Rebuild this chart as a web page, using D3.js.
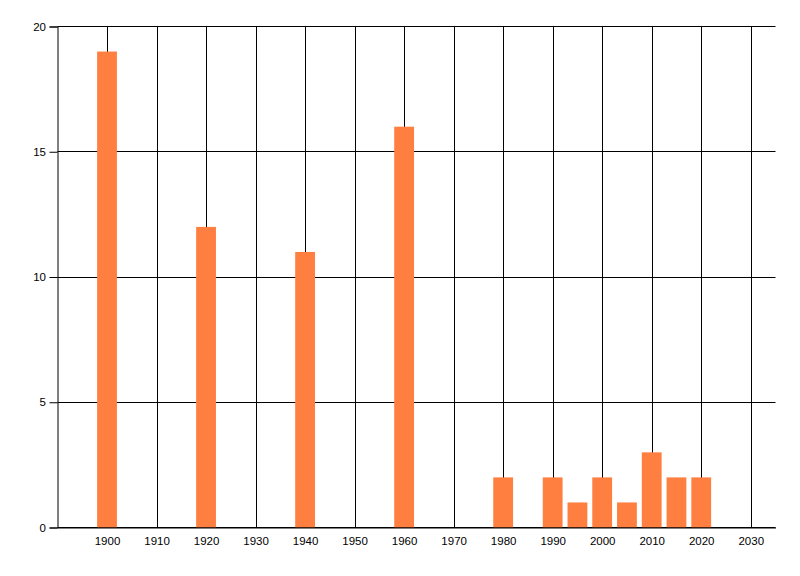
<!DOCTYPE html>
<html>
<head>
<meta charset="utf-8">
<script src="https://cdn.jsdelivr.net/npm/d3@7"></script>
<style>
  body { margin: 0; background: #fff; }
  svg text { font-family: "Liberation Sans", Arial, sans-serif; font-size: 11.5px; fill: #000; }
</style>
</head>
<body>
<div id="root"></div>
<script>
'use strict';

// chart values
var years = [1900, 1920, 1940, 1960, 1980, 1990, 1995, 2000, 2005, 2010, 2015, 2020];
var counts = [19, 12, 11, 16, 2, 2, 1, 2, 1, 3, 2, 2];
var xTicks = [1900, 1910, 1920, 1930, 1940, 1950, 1960, 1970, 1980, 1990, 2000, 2010, 2020, 2030];
var yTicks = [0, 5, 10, 15, 20];

var width = 800, height = 576;
var plotLeft = 57.5, plotRight = 775.5, plotTop = 26.5, plotBottom = 527.5;

var svg = d3.select('#root').append('svg')
  .attr('width', width)
  .attr('height', height);

var x = d3.scaleLinear().domain([1890, 2035]).range([plotLeft, plotRight]);
var y = d3.scaleLinear().domain([0, 20]).range([plotBottom, plotTop]);

// vertical grid lines
svg.selectAll('line.vgrid')
  .data(xTicks)
  .enter().append('line')
  .attr('class', 'vgrid')
  .attr('x1', function (d) { return Math.round(x(d)) + 0.5; })
  .attr('x2', function (d) { return Math.round(x(d)) + 0.5; })
  .attr('y1', plotTop)
  .attr('y2', plotBottom)
  .attr('stroke', '#000')
  .attr('stroke-width', 1);

// horizontal grid lines
svg.selectAll('line.hgrid')
  .data(yTicks)
  .enter().append('line')
  .attr('class', 'hgrid')
  .attr('x1', plotLeft)
  .attr('x2', plotRight)
  .attr('y1', function (d) { return Math.round(y(d) - 0.5) + 0.5; })
  .attr('y2', function (d) { return Math.round(y(d) - 0.5) + 0.5; })
  .attr('stroke', '#000')
  .attr('stroke-width', 1);

// bars
var barW = x(1904) - x(1900);
svg.selectAll('rect.bar')
  .data(years)
  .enter().append('rect')
  .attr('class', 'bar')
  .attr('x', function (d) { return x(d) - barW / 2; })
  .attr('width', barW)
  .attr('y', function (d, i) { return y(counts[i]); })
  .attr('height', function (d, i) { return y(0) - y(counts[i]); })
  .attr('fill', '#ff7f41');

// axes
var yAxis = d3.axisLeft(y).tickValues(yTicks).tickSize(8).tickPadding(3.5).tickFormat(d3.format('d'));
var gy = svg.append('g').attr('transform', 'translate(' + plotLeft + ',0)').call(yAxis);
gy.select('.domain').attr('stroke', '#000');
gy.selectAll('text').attr('font-family', 'Liberation Sans').attr('font-size', 11.5);

var xAxis = d3.axisBottom(x).tickValues(xTicks).tickSize(0).tickPadding(9).tickFormat(d3.format('d'));
var gx = svg.append('g').attr('transform', 'translate(0,' + plotBottom + ')').call(xAxis);
gx.select('.domain').attr('stroke', '#000');
gx.selectAll('text').attr('font-family', 'Liberation Sans').attr('font-size', 11.5);
</script>
</body>
</html>
